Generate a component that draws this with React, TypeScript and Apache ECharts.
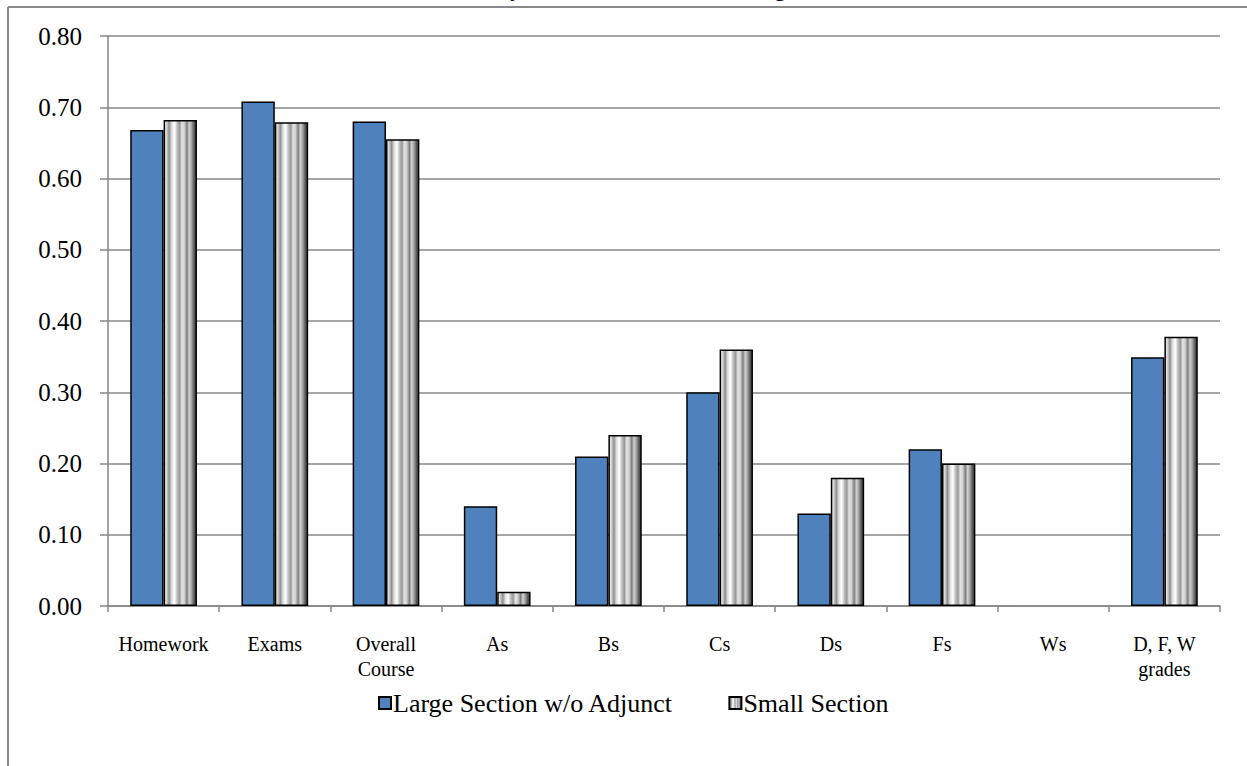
import React, { useEffect, useRef } from "react";
import * as echarts from "echarts";

const categories = [
  "Homework",
  "Exams",
  "Overall\nCourse",
  "As",
  "Bs",
  "Cs",
  "Ds",
  "Fs",
  "Ws",
  "D, F, W\ngrades",
];
const largeSection = [0.668, 0.708, 0.68, 0.14, 0.21, 0.3, 0.13, 0.22, 0, 0.349];
const smallSection = [0.682, 0.679, 0.655, 0.02, 0.24, 0.36, 0.18, 0.2, 0, 0.378];
const seriesNames = ["Large Section w/o Adjunct", "Small Section"];
const titleText = "Summary of Performance and Grading";

const FONT = "Liberation Serif";
const TOP_OFFSET = 32;

export default function App() {
  const ref = useRef<HTMLDivElement>(null);
  useEffect(() => {
    if (!ref.current) return;
    const chart = echarts.init(ref.current, undefined, { renderer: "svg" });
    const stripes = new echarts.graphic.LinearGradient(0, 0, 1, 0, [
      { offset: 0, color: "#f4f4f4" },
      { offset: 0.07, color: "#d4d4d4" },
      { offset: 0.15, color: "#8e8e8e" },
      { offset: 0.23, color: "#dedede" },
      { offset: 0.32, color: "#ffffff" },
      { offset: 0.4, color: "#c0c0c0" },
      { offset: 0.48, color: "#979797" },
      { offset: 0.55, color: "#e4e4e4" },
      { offset: 0.63, color: "#cfcfcf" },
      { offset: 0.71, color: "#7c7c7c" },
      { offset: 0.78, color: "#d2d2d2" },
      { offset: 0.86, color: "#9d9d9d" },
      { offset: 0.93, color: "#5a5a5a" },
      { offset: 1, color: "#444444" },
    ]);
    const shown = (arr: number[]) => arr.map((v) => (v === 0 ? "-" : v));
    chart.setOption({
      animation: false,
      backgroundColor: "#ffffff",
      textStyle: { fontFamily: FONT },
      graphic: [
        {
          type: "line",
          z: 10,
          silent: true,
          shape: { x1: 8, y1: 7 + TOP_OFFSET, x2: 1247, y2: 7 + TOP_OFFSET },
          style: { stroke: "#8a8a8a", lineWidth: 2 },
        },
        {
          type: "line",
          z: 10,
          silent: true,
          shape: { x1: 8, y1: 7 + TOP_OFFSET, x2: 8, y2: 830 },
          style: { stroke: "#8a8a8a", lineWidth: 2 },
        },
        {
          type: "text",
          z: 10,
          x: 432,
          y: TOP_OFFSET - 1,
          style: {
            text: titleText,
            font: `bold 21px ${FONT}`,
            fill: "#000",
            align: "left",
            verticalAlign: "bottom",
          },
        },
      ],
      legend: {
        data: seriesNames,
        top: 685 + TOP_OFFSET,
        left: 373,
        icon: "rect",
        itemWidth: 12,
        itemHeight: 12,
        itemGap: 55,
        itemStyle: { borderColor: "#000", borderWidth: 2 },
        textStyle: { fontFamily: FONT, fontSize: 26, color: "#000", padding: [0, 0, 0, -3] },
      },
      grid: {
        left: 108,
        right: 27,
        top: 36 + TOP_OFFSET,
        bottom: 830 - (606 + TOP_OFFSET),
        containLabel: false,
      },
      xAxis: {
        type: "category",
        data: categories,
        axisLine: { lineStyle: { color: "#868686", width: 1.5 } },
        axisTick: { show: true, length: 6, lineStyle: { color: "#868686", width: 1.5 } },
        axisLabel: {
          fontFamily: FONT,
          fontSize: 20,
          color: "#000",
          margin: 25,
          lineHeight: 25,
          interval: 0,
        },
      },
      yAxis: {
        type: "value",
        min: 0,
        max: 0.8,
        interval: 0.1,
        axisLine: { show: true, lineStyle: { color: "#868686", width: 1.5 } },
        axisTick: { show: true, length: 8, lineStyle: { color: "#868686", width: 1.5 } },
        splitLine: { lineStyle: { color: "#878787", width: 1.5 } },
        axisLabel: {
          fontFamily: FONT,
          fontSize: 25,
          color: "#000",
          margin: 26,
          formatter: (v: number) => v.toFixed(2),
        },
      },
      series: [
        {
          name: seriesNames[0],
          type: "bar",
          data: shown(largeSection),
          barGap: "0%",
          barCategoryGap: "40%",
          itemStyle: { color: "#4F81BD", borderColor: "#000", borderWidth: 1.5 },
        },
        {
          name: seriesNames[1],
          type: "bar",
          data: shown(smallSection),
          barGap: "0%",
          barCategoryGap: "40%",
          itemStyle: { color: stripes, borderColor: "#000", borderWidth: 1.5 },
        },
      ],
    });
    return () => chart.dispose();
  }, []);
  return (
    <div
      ref={ref}
      style={{ position: "absolute", left: 0, top: -TOP_OFFSET, width: 1247, height: 830 }}
    />
  );
}
